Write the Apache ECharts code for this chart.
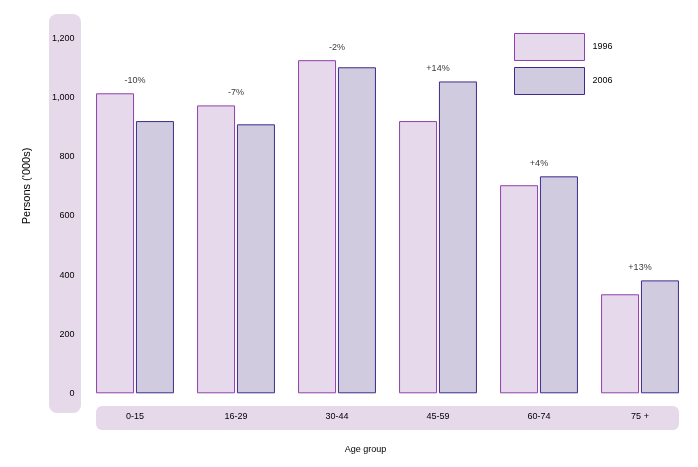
<!DOCTYPE html>
<html>
<head>
<meta charset="utf-8">
<script src="https://cdn.jsdelivr.net/npm/echarts@6/dist/echarts.min.js"></script>
<style>
	html, body { margin: 0; padding: 0; background: #fff; }
	#chart { width: 698px; height: 467px; }
</style>
</head>
<body>
<div id="chart"></div>
<script>
"use strict";

/*****Data start*****/
var ageGroups = ['0-15', '16-29', '30-44', '45-59', '60-74', '75 +'];
var persons1996 = [1015, 974, 1127, 921, 704, 335];
var persons2006 = [921, 910, 1103, 1055, 734, 382];
var changeLabels = ['-10%', '-7%', '-2%', '+14%', '+4%', '+13%'];
var yTicks = [0, 200, 400, 600, 800, 1000, 1200];
/*****Data end*****/

var font = '"Liberation Sans", Arial, sans-serif';
var textColor = '#000';
var bandColor = '#e5d9ea';

// the % labels sit above whichever bar is taller
var changePoints = [];
for (var i = 0; i < ageGroups.length; i++) {
	changePoints[i] = {
		value: Math.max(persons1996[i], persons2006[i]),
		label: { formatter: changeLabels[i] }
	};
}

var chart = echarts.init(document.getElementById('chart'));
var option = {
	animation: false,
	textStyle: { fontFamily: font },
	graphic: [
		{ type: 'rect', z: -10, shape: { x: 49, y: 14, width: 32, height: 399, r: 8 }, style: { fill: bandColor } },
		{ type: 'rect', z: -10, shape: { x: 96, y: 406, width: 583, height: 24, r: 6 }, style: { fill: bandColor } }
	],
	grid: { left: 84.5, right: 7.5, top: 38.6, bottom: 73.7 },
	legend: {
		data: ['1996', '2006'],
		orient: 'vertical',
		left: 514,
		top: 33,
		padding: 0,
		icon: 'rect',
		itemWidth: 70,
		itemHeight: 27,
		itemGap: 6,
		itemStyle: { borderWidth: 1 },
		textStyle: { fontSize: 9, color: textColor, fontFamily: font, padding: [0, 0, 0, 3] }
	},
	xAxis: {
		type: 'category',
		data: ageGroups,
		name: 'Age group',
		nameLocation: 'middle',
		nameGap: 52,
		nameTextStyle: { fontSize: 9, color: textColor, fontFamily: font, padding: [0, 44, 0, 0] },
		axisLine: { show: false },
		axisTick: { show: false },
		axisLabel: { fontSize: 9, color: textColor, margin: 19 }
	},
	yAxis: {
		type: 'value',
		min: yTicks[0],
		max: yTicks[yTicks.length - 1],
		interval: yTicks[1] - yTicks[0],
		name: "Persons ('000s)",
		nameLocation: 'middle',
		nameGap: 52,
		nameTextStyle: { fontSize: 11, color: textColor, fontFamily: font, padding: [0, 0, 0, 60] },
		axisLine: { show: false },
		axisTick: { show: false },
		splitLine: { show: false },
		axisLabel: {
			fontSize: 9,
			color: textColor,
			margin: 10,
			formatter: function (v) { return v.toLocaleString('en-US'); }
		}
	},
	series: [
		{
			name: '1996',
			type: 'bar',
			data: persons1996,
			barWidth: 38,
			barGap: '5%',
			itemStyle: { color: '#e6d9eb', borderColor: '#9040ac', borderWidth: 1 }
		},
		{
			name: '2006',
			type: 'bar',
			data: persons2006,
			barWidth: 38,
			itemStyle: { color: '#d1cbe0', borderColor: '#3b2c8c', borderWidth: 1 }
		},
		{
			name: 'change',
			type: 'scatter',
			data: changePoints,
			symbolSize: 1,
			itemStyle: { color: 'rgba(0,0,0,0)' },
			label: { show: true, position: 'top', distance: 8, fontSize: 9, color: textColor },
			silent: true
		}
	]
};
chart.setOption(option);
</script>
</body>
</html>
